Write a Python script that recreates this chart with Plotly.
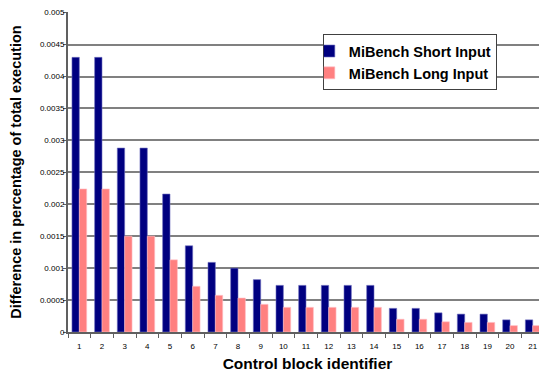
import plotly.graph_objects as go

categories = [str(i) for i in range(1, 22)]
short_input = [0.0043, 0.0043, 0.00288, 0.00288, 0.00216, 0.00135, 0.00109, 0.001, 0.00082,
               0.00073, 0.00073, 0.00073, 0.00073, 0.00073, 0.00037, 0.00037, 0.0003,
               0.00028, 0.00028, 0.00019, 0.00019]
long_input = [0.00224, 0.00224, 0.0015, 0.0015, 0.00113, 0.000715, 0.000574, 0.000532, 0.000433,
              0.000386, 0.000386, 0.000386, 0.000386, 0.000386, 0.0002, 0.0002, 0.00016,
              0.00015, 0.00015, 0.0001, 0.0001]
y_tickvals = [0, 0.0005, 0.001, 0.0015, 0.002, 0.0025, 0.003, 0.0035, 0.004, 0.0045, 0.005]
y_ticktext = ["0", "0.0005", "0.001", "0.0015", "0.002", "0.0025", "0.003", "0.0035", "0.004", "0.0045", "0.005"]

FONT = "Liberation Sans, Arial, sans-serif"

fig = go.Figure()
fig.add_trace(go.Bar(x=categories, y=short_input, name="MiBench Short Input",
                     legendgroup="a",
                     marker=dict(color="#000080", line=dict(color="#7070c0", width=0.6))))
fig.add_trace(go.Bar(x=categories, y=long_input, name="MiBench Long Input",
                     legendgroup="b",
                     marker=dict(color="#FF8080", line=dict(color="#ffc0c8", width=0.6))))

fig.update_layout(
    width=539, height=365,
    margin=dict(l=60, r=0, t=4, b=41, autoexpand=False),
    paper_bgcolor="white", plot_bgcolor="white",
    barmode="group", bargap=0.35, bargroupgap=0,
    font=dict(family=FONT, color="black"),
    legend=dict(x=0.532, y=0.931, xanchor="left", yanchor="top",
                bgcolor="white", bordercolor="#404040", borderwidth=1,
                font=dict(family=FONT, size=14.5, color="black", weight="bold"),
                indentation=-15, tracegroupgap=5, traceorder="normal"),
    xaxis=dict(type="category", range=[-0.5, 20.63], showline=True, linecolor="#606060", linewidth=2,
               ticks="outside", tickson="boundaries", ticklen=4, tickcolor="#606060", tickwidth=1,
               showgrid=False, tickfont=dict(size=8, family=FONT), automargin=False,
               ticklabelstandoff=5,
               title=dict(text="Control block identifier",
                          font=dict(size=15.5, family=FONT, weight="bold"), standoff=9)),
    yaxis=dict(range=[0, 0.00501], tickvals=y_tickvals, ticktext=y_ticktext,
               showline=True, linecolor="#606060", linewidth=2, zeroline=False,
               ticks="outside", ticklen=3, tickcolor="#606060",
               showgrid=True, gridcolor="#808080", gridwidth=1.6,
               tickfont=dict(size=8, family=FONT), automargin=False,
               ticklabelstandoff=-3,
               title=dict(text="Difference in percentage of total execution",
                          font=dict(size=14.5, family=FONT, weight="bold"), standoff=20)),
)

fig.write_html("out.html")
